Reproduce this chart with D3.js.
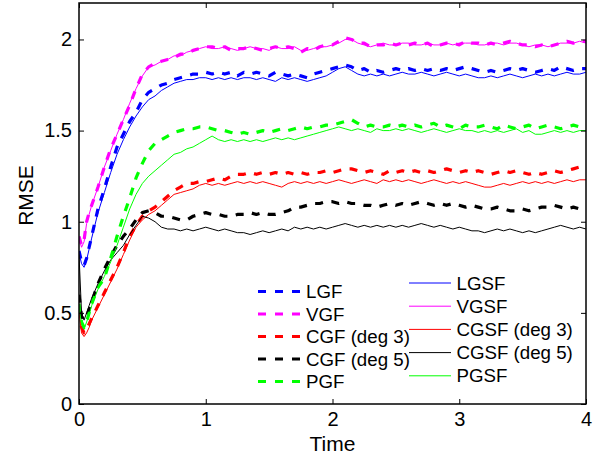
<!DOCTYPE html>
<html><head><meta charset="utf-8">
<script src="https://cdn.jsdelivr.net/npm/d3@7"></script>
<style>
body{margin:0;background:#fff;}
svg{display:block;font-family:"Liberation Sans",Arial,Helvetica,sans-serif;}
</style>
</head><body><svg id="c" width="604" height="458"></svg>
<script>
// ---- data ----
const time = [0,0.02,0.04,0.06,0.08,0.10,0.15,0.20,0.25,0.30,0.35,0.40,0.45,0.50,0.55,0.60,0.65,0.70,0.75,0.80,0.85,0.90,0.95,
1.00,1.05,1.10,1.15,1.20,1.25,1.30,1.35,1.40,1.45,1.50,1.55,1.60,1.65,1.70,1.75,1.80,1.85,1.90,1.95,
2.00,2.05,2.10,2.15,2.20,2.25,2.30,2.35,2.40,2.45,2.50,2.55,2.60,2.65,2.70,2.75,2.80,2.85,2.90,2.95,
3.00,3.05,3.10,3.15,3.20,3.25,3.30,3.35,3.40,3.45,3.50,3.55,3.60,3.65,3.70,3.75,3.80,3.85,3.90,3.95,4.00];

const LGF = [0.84,0.78,0.76,0.80,0.86,0.92,1.07,1.18,1.30,1.41,1.48,1.55,1.60,1.67,1.71,1.73,1.75,1.76,1.78,1.79,1.80,1.81,1.81,
1.82,1.81,1.82,1.81,1.82,1.80,1.82,1.81,1.82,1.81,1.80,1.82,1.81,1.80,1.81,1.80,1.79,1.81,1.82,1.83,
1.84,1.85,1.86,1.85,1.83,1.84,1.82,1.83,1.82,1.83,1.84,1.83,1.84,1.83,1.84,1.83,1.84,1.83,1.84,1.83,
1.84,1.85,1.84,1.83,1.82,1.83,1.82,1.83,1.84,1.83,1.84,1.83,1.82,1.83,1.84,1.83,1.85,1.84,1.83,1.84,1.84];
const VGF = [0.92,0.87,0.90,1.00,1.05,1.09,1.19,1.30,1.40,1.48,1.56,1.64,1.73,1.81,1.85,1.87,1.88,1.89,1.90,1.92,1.92,1.94,1.95,
1.96,1.96,1.95,1.96,1.94,1.95,1.95,1.96,1.95,1.94,1.95,1.96,1.95,1.96,1.95,1.93,1.95,1.94,1.96,1.97,
1.97,1.99,2.01,2.00,1.98,1.98,1.96,1.97,1.97,1.98,1.97,1.98,1.97,1.98,1.97,1.98,1.96,1.97,1.98,1.98,
1.97,1.99,1.98,1.98,1.97,1.98,1.97,1.98,1.99,1.98,1.97,1.97,1.96,1.97,1.96,1.97,1.98,1.99,1.98,1.99,1.99];
const CGF3 = [0.52,0.42,0.39,0.41,0.44,0.47,0.54,0.61,0.68,0.75,0.83,0.92,0.98,1.03,1.06,1.08,1.11,1.14,1.17,1.19,1.21,1.21,1.22,
1.22,1.23,1.24,1.23,1.25,1.26,1.26,1.27,1.26,1.27,1.26,1.27,1.26,1.27,1.26,1.27,1.26,1.27,1.27,1.28,
1.27,1.28,1.29,1.29,1.28,1.27,1.28,1.27,1.26,1.28,1.27,1.28,1.27,1.28,1.27,1.28,1.27,1.28,1.29,1.28,
1.27,1.28,1.27,1.28,1.27,1.26,1.27,1.28,1.27,1.28,1.27,1.26,1.27,1.26,1.27,1.28,1.27,1.28,1.29,1.30,1.30];
const CGF5 = [0.60,0.48,0.46,0.48,0.52,0.56,0.66,0.74,0.81,0.87,0.92,0.96,1.01,1.05,1.06,1.05,1.03,1.03,1.02,1.01,1.01,1.03,1.04,
1.05,1.04,1.04,1.03,1.03,1.04,1.04,1.05,1.04,1.05,1.04,1.04,1.05,1.06,1.08,1.08,1.09,1.10,1.10,1.11,
1.11,1.10,1.11,1.10,1.10,1.09,1.09,1.08,1.09,1.10,1.09,1.10,1.09,1.10,1.11,1.10,1.09,1.10,1.09,1.10,
1.09,1.08,1.09,1.08,1.07,1.07,1.08,1.07,1.06,1.06,1.07,1.06,1.07,1.08,1.08,1.09,1.08,1.07,1.08,1.07,1.07];
const PGF = [0.55,0.45,0.42,0.45,0.50,0.55,0.64,0.69,0.80,0.92,1.03,1.13,1.24,1.32,1.39,1.43,1.45,1.47,1.49,1.50,1.51,1.51,1.52,
1.52,1.51,1.50,1.50,1.49,1.48,1.49,1.48,1.49,1.50,1.49,1.50,1.51,1.50,1.51,1.52,1.51,1.52,1.52,1.53,
1.53,1.54,1.55,1.56,1.54,1.52,1.53,1.52,1.52,1.53,1.52,1.53,1.52,1.53,1.52,1.53,1.54,1.52,1.53,1.52,
1.51,1.53,1.52,1.52,1.53,1.52,1.51,1.53,1.52,1.51,1.52,1.53,1.51,1.52,1.53,1.52,1.51,1.52,1.53,1.52,1.52];

const LGSF = [0.83,0.77,0.75,0.79,0.85,0.91,1.05,1.16,1.27,1.37,1.45,1.52,1.58,1.63,1.67,1.69,1.72,1.74,1.76,1.77,1.78,1.78,1.79,
1.79,1.78,1.79,1.78,1.79,1.78,1.79,1.79,1.78,1.79,1.78,1.77,1.79,1.78,1.79,1.78,1.77,1.78,1.79,1.80,
1.82,1.84,1.85,1.83,1.81,1.80,1.81,1.80,1.81,1.80,1.81,1.82,1.81,1.81,1.82,1.81,1.80,1.81,1.82,1.81,
1.80,1.81,1.80,1.79,1.79,1.80,1.79,1.80,1.81,1.80,1.79,1.80,1.81,1.80,1.81,1.80,1.81,1.82,1.81,1.81,1.82];
const VGSF = [0.91,0.86,0.89,0.99,1.04,1.09,1.19,1.30,1.39,1.48,1.56,1.65,1.73,1.80,1.85,1.86,1.88,1.89,1.91,1.91,1.93,1.94,1.95,
1.96,1.95,1.95,1.96,1.95,1.94,1.95,1.96,1.95,1.95,1.94,1.96,1.95,1.95,1.96,1.94,1.94,1.95,1.96,1.96,
1.97,1.98,2.00,2.00,1.98,1.97,1.96,1.97,1.98,1.97,1.97,1.98,1.98,1.97,1.97,1.98,1.97,1.97,1.98,1.97,
1.98,1.98,1.98,1.97,1.97,1.98,1.98,1.97,1.98,1.98,1.97,1.96,1.97,1.97,1.96,1.97,1.98,1.98,1.98,1.99,1.98];
const CGSF3 = [0.50,0.39,0.37,0.39,0.42,0.46,0.53,0.60,0.67,0.74,0.82,0.90,0.97,1.01,1.04,1.06,1.09,1.12,1.15,1.16,1.17,1.18,1.20,
1.21,1.20,1.21,1.20,1.21,1.22,1.21,1.22,1.21,1.22,1.21,1.20,1.19,1.21,1.22,1.21,1.22,1.21,1.22,1.21,
1.22,1.23,1.22,1.21,1.22,1.23,1.22,1.21,1.23,1.22,1.23,1.22,1.23,1.22,1.21,1.22,1.23,1.22,1.21,1.22,
1.21,1.22,1.21,1.20,1.19,1.19,1.20,1.21,1.20,1.21,1.22,1.21,1.22,1.21,1.22,1.21,1.22,1.23,1.22,1.23,1.23];
const CGSF5 = [0.82,0.50,0.46,0.50,0.54,0.58,0.66,0.73,0.79,0.83,0.87,0.93,0.98,1.03,1.02,1.00,0.97,0.96,0.96,0.95,0.96,0.95,0.96,
0.97,0.96,0.95,0.96,0.95,0.94,0.94,0.93,0.94,0.95,0.94,0.95,0.96,0.95,0.97,0.96,0.97,0.96,0.97,0.96,
0.97,0.98,0.99,0.98,0.97,0.98,0.97,0.98,0.97,0.98,0.97,0.98,0.97,0.98,0.99,0.98,0.97,0.98,0.97,0.96,
0.97,0.96,0.95,0.95,0.94,0.95,0.96,0.95,0.96,0.95,0.94,0.95,0.94,0.95,0.96,0.97,0.98,0.97,0.96,0.97,0.96];
const PGSF = [0.53,0.44,0.41,0.45,0.49,0.54,0.63,0.70,0.78,0.87,0.97,1.07,1.15,1.21,1.25,1.28,1.31,1.34,1.37,1.38,1.40,1.41,1.43,
1.45,1.47,1.45,1.44,1.45,1.44,1.45,1.44,1.45,1.44,1.45,1.46,1.45,1.46,1.45,1.46,1.47,1.48,1.49,1.50,
1.51,1.52,1.51,1.50,1.51,1.50,1.49,1.51,1.50,1.50,1.51,1.50,1.51,1.50,1.49,1.50,1.51,1.50,1.49,1.50,
1.51,1.50,1.50,1.49,1.50,1.49,1.50,1.49,1.50,1.51,1.49,1.50,1.48,1.48,1.49,1.50,1.49,1.50,1.49,1.50,1.50];

const dashedNames = ["LGF","VGF","CGF (deg 3)","CGF (deg 5)","PGF"];
const solidNames  = ["LGSF","VGSF","CGSF (deg 3)","CGSF (deg 5)","PGSF"];
const colors = ["#0000ff","#ff00ff","#ff0000","#000000","#00ff00"];
const xTicks = [0,1,2,3,4];
const yTicks = [0,0.5,1,1.5,2];
const xLabel = "Time", yLabel = "RMSE";

const dashedSeries = [LGF,VGF,CGF3,CGF5,PGF];
const solidSeries  = [LGSF,VGSF,CGSF3,CGSF5,PGSF];

// ---- layout ----
const L = 79, R = 586, T = 3, B = 404;
const svg = d3.select("#c");
const x = d3.scaleLinear().domain([0,4]).range([L,R]);
const y = d3.scaleLinear().domain([0,2.2]).range([B,T]);

svg.append("defs").append("clipPath").attr("id","clip")
  .append("rect").attr("x",L).attr("y",T).attr("width",R-L).attr("height",B-T);

const line = d3.line().x((d,i)=>x(time[i])).y(d=>y(d));
const plot = svg.append("g").attr("clip-path","url(#clip)");

dashedSeries.forEach((s,k)=>{
  plot.append("path").datum(s).attr("d",line).attr("fill","none")
    .attr("stroke",colors[k]).attr("stroke-width",3.2)
    .attr("stroke-dasharray","8,8.5").attr("stroke-linejoin","round");
});
solidSeries.forEach((s,k)=>{
  plot.append("path").datum(s).attr("d",line).attr("fill","none")
    .attr("stroke",colors[k]).attr("stroke-width",1);
});

// ---- axes ----
const fs = 20;
const gx = svg.append("g").attr("transform",`translate(0,${B})`)
  .call(d3.axisBottom(x).tickValues(xTicks).tickFormat(d3.format("d")).tickSizeInner(-5).tickSizeOuter(0).tickPadding(8));
const gxt = svg.append("g").attr("transform",`translate(0,${T})`)
  .call(d3.axisTop(x).tickValues(xTicks).tickFormat("").tickSizeInner(-5).tickSizeOuter(0));
const gy = svg.append("g").attr("transform",`translate(${L},0)`)
  .call(d3.axisLeft(y).tickValues(yTicks).tickFormat(d=>d3.format("")(d)).tickSizeInner(-5).tickSizeOuter(0).tickPadding(7));
const gyr = svg.append("g").attr("transform",`translate(${R},0)`)
  .call(d3.axisRight(y).tickValues(yTicks).tickFormat("").tickSizeInner(-5).tickSizeOuter(0));
[gx,gxt,gy,gyr].forEach(g=>{
  g.select(".domain").remove();
  g.selectAll("line").attr("stroke","#000").attr("stroke-width",1);
  g.selectAll("text").attr("font-size",fs).attr("font-family","Liberation Sans, Arial, sans-serif").attr("fill","#000");
});
svg.append("rect").attr("x",L).attr("y",T).attr("width",R-L).attr("height",B-T)
  .attr("fill","none").attr("stroke","#000").attr("stroke-width",1.5);

svg.append("text").attr("x",(L+R)/2).attr("y",451).attr("text-anchor","middle")
  .attr("font-size",21).text(xLabel);
svg.append("text").attr("transform",`translate(33,${(T+B)/2 - 8}) rotate(-90)`)
  .attr("text-anchor","middle").attr("font-size",21).text(yLabel);

// ---- legend ----
const lg = svg.append("g");
dashedNames.forEach((n,k)=>{
  const yy = 291.5 + k*22.5;
  lg.append("line").attr("x1",258).attr("x2",301).attr("y1",yy).attr("y2",yy)
    .attr("stroke",colors[k]).attr("stroke-width",3.2).attr("stroke-dasharray","8,9");
  lg.append("text").attr("x",306).attr("y",yy+6.5).attr("font-size",18.7).text(n);
});
solidNames.forEach((n,k)=>{
  const yy = 283 + k*23.2;
  lg.append("line").attr("x1",409).attr("x2",451).attr("y1",yy).attr("y2",yy)
    .attr("stroke",colors[k]).attr("stroke-width",1);
  lg.append("text").attr("x",456.5).attr("y",yy+6.5).attr("font-size",18.7).text(n);
});
</script></body></html>
